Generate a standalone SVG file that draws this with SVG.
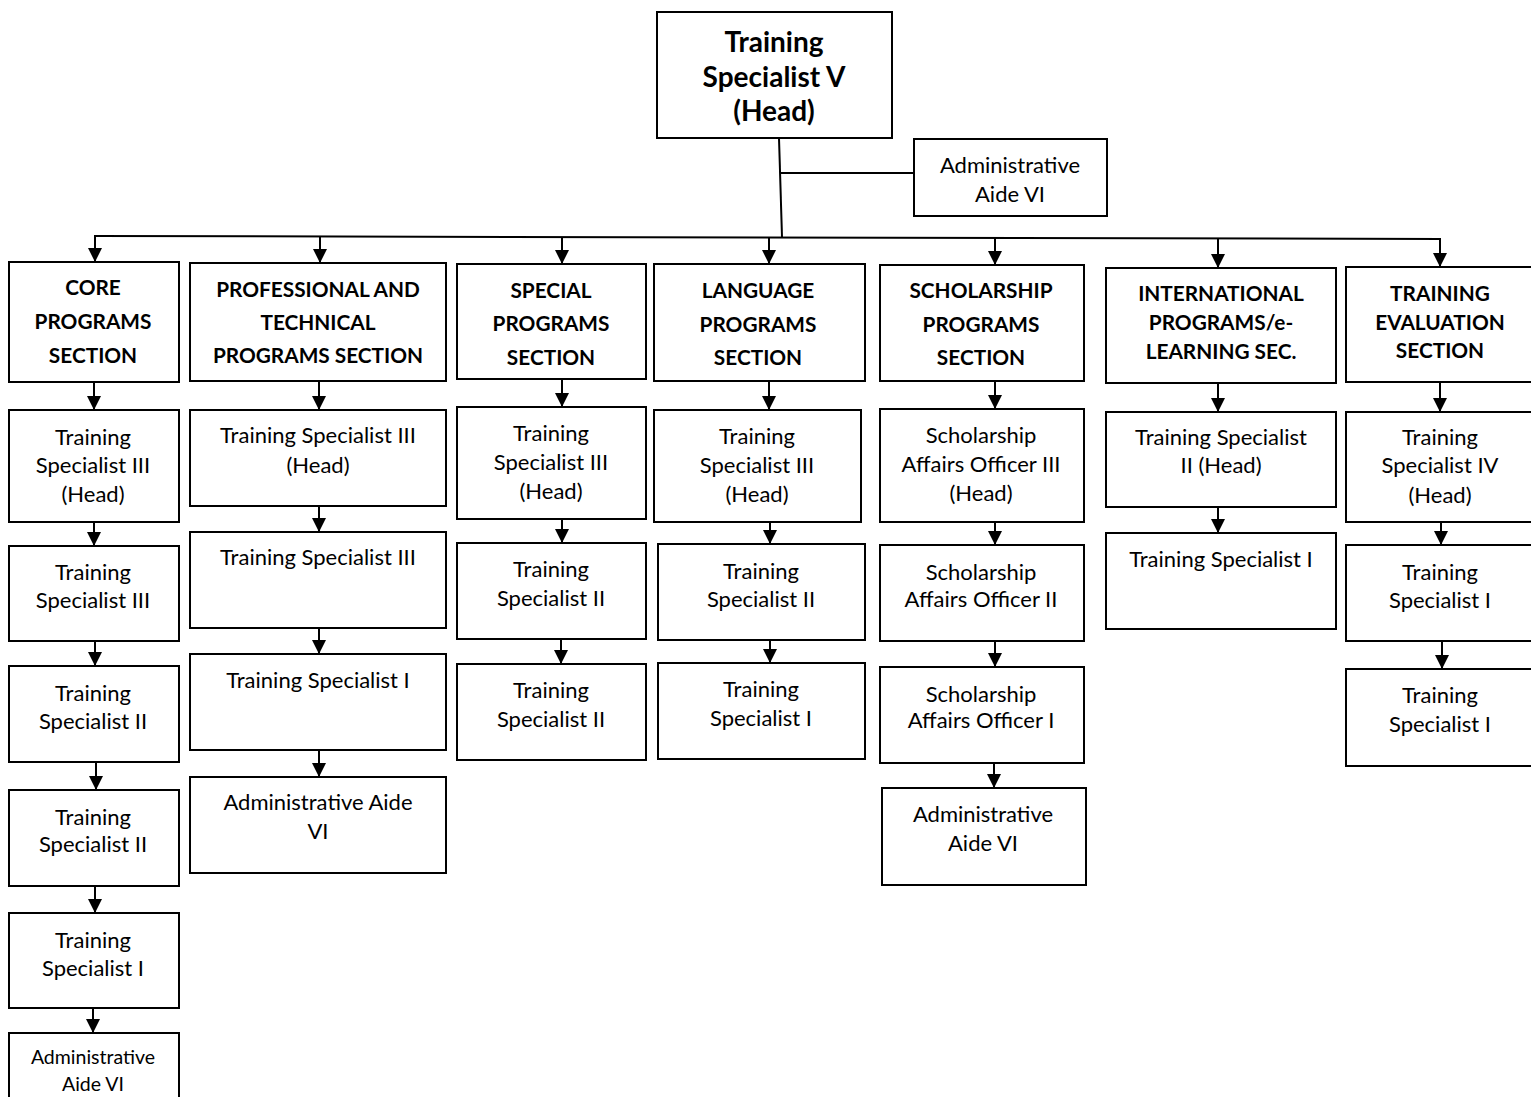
<svg xmlns="http://www.w3.org/2000/svg" width="1531" height="1097" viewBox="0 0 1531 1097">
  <style>
    .box { fill: #ffffff; stroke: #000000; stroke-width: 2; }
    .ln { fill: none; stroke: #000000; stroke-width: 2; }
    .arr { fill: none; stroke: #000000; stroke-width: 2; marker-end: url(#ah); }
    text { font-family: Lato, "Liberation Sans", sans-serif; fill: #000000; text-anchor: middle; }
    .t { font-size: 22px; }
    .s { font-size: 20.8px; font-weight: bold; }
    .h { font-size: 28px; font-weight: bold; }
    .sm { font-size: 19.5px; }
  </style>
  <defs>
    <marker id="ah" viewBox="0 0 10 10" refX="10" refY="5" markerUnits="userSpaceOnUse" markerWidth="14" markerHeight="14" orient="auto">
      <path d="M0,0 L10,5 L0,10 z" fill="#000000"/>
    </marker>
  </defs>
  <rect width="1531" height="1097" fill="#ffffff"/>

  <!-- connectors -->
  <g id="connectors">
    <line class="ln" x1="779" y1="138" x2="782" y2="237"/>
    <line class="ln" x1="780" y1="173" x2="914" y2="173"/>
    <line class="ln" x1="94" y1="236" x2="1441" y2="239"/>
    <!-- bus to sections -->
    <line class="arr" x1="95" y1="236" x2="95" y2="262"/>
    <line class="arr" x1="320" y1="236.5" x2="320" y2="263"/>
    <line class="arr" x1="562" y1="237" x2="562" y2="264"/>
    <line class="arr" x1="769" y1="237.5" x2="769" y2="264"/>
    <line class="arr" x1="995" y1="238" x2="995" y2="265"/>
    <line class="arr" x1="1218" y1="238.5" x2="1218" y2="268"/>
    <line class="arr" x1="1440" y1="239" x2="1440" y2="267"/>
    <!-- core column -->
    <line class="arr" x1="94" y1="382" x2="94" y2="410"/>
    <line class="arr" x1="94" y1="522" x2="94" y2="546"/>
    <line class="arr" x1="95" y1="641" x2="95" y2="666"/>
    <line class="arr" x1="96" y1="762" x2="96" y2="790"/>
    <line class="arr" x1="95" y1="886" x2="95" y2="913"/>
    <line class="arr" x1="93" y1="1008" x2="93" y2="1033"/>
    <!-- professional column -->
    <line class="arr" x1="319" y1="381" x2="319" y2="410"/>
    <line class="arr" x1="319" y1="506" x2="319" y2="532"/>
    <line class="arr" x1="319" y1="628" x2="319" y2="654"/>
    <line class="arr" x1="319" y1="750" x2="319" y2="777"/>
    <!-- special column -->
    <line class="arr" x1="562" y1="379" x2="562" y2="407"/>
    <line class="arr" x1="562" y1="519" x2="562" y2="543"/>
    <line class="arr" x1="561" y1="639" x2="561" y2="664"/>
    <!-- language column -->
    <line class="arr" x1="769" y1="381" x2="769" y2="410"/>
    <line class="arr" x1="770" y1="522" x2="770" y2="544"/>
    <line class="arr" x1="770" y1="640" x2="770" y2="663"/>
    <!-- scholarship column -->
    <line class="arr" x1="995" y1="381" x2="995" y2="409"/>
    <line class="arr" x1="995" y1="522" x2="995" y2="545"/>
    <line class="arr" x1="995" y1="641" x2="995" y2="667"/>
    <line class="arr" x1="994" y1="763" x2="994" y2="788"/>
    <!-- international column -->
    <line class="arr" x1="1218" y1="383" x2="1218" y2="412"/>
    <line class="arr" x1="1218" y1="507" x2="1218" y2="533"/>
    <!-- evaluation column -->
    <line class="arr" x1="1440" y1="382" x2="1440" y2="412"/>
    <line class="arr" x1="1441" y1="522" x2="1441" y2="545"/>
    <line class="arr" x1="1442" y1="641" x2="1442" y2="669"/>
  </g>

  <!-- head -->
  <g id="head">
    <rect class="box" x="657" y="12" width="235" height="126"/>
    <text class="h" x="774" y="52">Training</text>
    <text class="h" x="774" y="87">Specialist V</text>
    <text class="h" x="774" y="121">(Head)</text>
  </g>
  <g id="admin-top">
    <rect class="box" x="914" y="139" width="193" height="77"/>
    <text class="t" x="1010" y="173">Administrative</text>
    <text class="t" x="1010" y="202">Aide VI</text>
  </g>

  <!-- core programs section -->
  <g id="core">
    <rect class="box" x="9" y="262" width="170" height="120"/>
    <text class="s" x="93" y="295">CORE</text>
    <text class="s" x="93" y="329">PROGRAMS</text>
    <text class="s" x="93" y="363">SECTION</text>
  </g>
  <g id="core-1">
    <rect class="box" x="9" y="410" width="170" height="112"/>
    <text class="t" x="93" y="445">Training</text>
    <text class="t" x="93" y="473">Specialist III</text>
    <text class="t" x="93" y="502">(Head)</text>
  </g>
  <g id="core-2">
    <rect class="box" x="9" y="546" width="170" height="95"/>
    <text class="t" x="93" y="580">Training</text>
    <text class="t" x="93" y="608">Specialist III</text>
  </g>
  <g id="core-3">
    <rect class="box" x="9" y="666" width="170" height="96"/>
    <text class="t" x="93" y="701">Training</text>
    <text class="t" x="93" y="729">Specialist II</text>
  </g>
  <g id="core-4">
    <rect class="box" x="9" y="790" width="170" height="96"/>
    <text class="t" x="93" y="825">Training</text>
    <text class="t" x="93" y="852">Specialist II</text>
  </g>
  <g id="core-5">
    <rect class="box" x="9" y="913" width="170" height="95"/>
    <text class="t" x="93" y="948">Training</text>
    <text class="t" x="93" y="976">Specialist I</text>
  </g>
  <g id="core-6">
    <rect class="box" x="9" y="1033" width="170" height="80"/>
    <text class="sm" x="93" y="1064">Administrative</text>
    <text class="sm" x="93" y="1091">Aide VI</text>
  </g>

  <!-- professional and technical programs section -->
  <g id="prof">
    <rect class="box" x="190" y="263" width="256" height="118"/>
    <text class="s" x="318" y="297">PROFESSIONAL AND</text>
    <text class="s" x="318" y="330">TECHNICAL</text>
    <text class="s" x="318" y="363">PROGRAMS SECTION</text>
  </g>
  <g id="prof-1">
    <rect class="box" x="190" y="410" width="256" height="96"/>
    <text class="t" x="318" y="443">Training Specialist III</text>
    <text class="t" x="318" y="473">(Head)</text>
  </g>
  <g id="prof-2">
    <rect class="box" x="190" y="532" width="256" height="96"/>
    <text class="t" x="318" y="565">Training Specialist III</text>
  </g>
  <g id="prof-3">
    <rect class="box" x="190" y="654" width="256" height="96"/>
    <text class="t" x="318" y="688">Training Specialist I</text>
  </g>
  <g id="prof-4">
    <rect class="box" x="190" y="777" width="256" height="96"/>
    <text class="t" x="318" y="810">Administrative Aide</text>
    <text class="t" x="318" y="839">VI</text>
  </g>

  <!-- special programs section -->
  <g id="special">
    <rect class="box" x="457" y="264" width="189" height="115"/>
    <text class="s" x="551" y="298">SPECIAL</text>
    <text class="s" x="551" y="331">PROGRAMS</text>
    <text class="s" x="551" y="365">SECTION</text>
  </g>
  <g id="special-1">
    <rect class="box" x="457" y="407" width="189" height="112"/>
    <text class="t" x="551" y="441">Training</text>
    <text class="t" x="551" y="470">Specialist III</text>
    <text class="t" x="551" y="499">(Head)</text>
  </g>
  <g id="special-2">
    <rect class="box" x="457" y="543" width="189" height="96"/>
    <text class="t" x="551" y="577">Training</text>
    <text class="t" x="551" y="606">Specialist II</text>
  </g>
  <g id="special-3">
    <rect class="box" x="457" y="664" width="189" height="96"/>
    <text class="t" x="551" y="698">Training</text>
    <text class="t" x="551" y="727">Specialist II</text>
  </g>

  <!-- language programs section -->
  <g id="language">
    <rect class="box" x="654" y="264" width="211" height="117"/>
    <text class="s" x="758" y="298">LANGUAGE</text>
    <text class="s" x="758" y="332">PROGRAMS</text>
    <text class="s" x="758" y="365">SECTION</text>
  </g>
  <g id="language-1">
    <rect class="box" x="654" y="410" width="207" height="112"/>
    <text class="t" x="757" y="444">Training</text>
    <text class="t" x="757" y="473">Specialist III</text>
    <text class="t" x="757" y="502">(Head)</text>
  </g>
  <g id="language-2">
    <rect class="box" x="658" y="544" width="207" height="96"/>
    <text class="t" x="761" y="579">Training</text>
    <text class="t" x="761" y="607">Specialist II</text>
  </g>
  <g id="language-3">
    <rect class="box" x="658" y="663" width="207" height="96"/>
    <text class="t" x="761" y="697">Training</text>
    <text class="t" x="761" y="726">Specialist I</text>
  </g>

  <!-- scholarship programs section -->
  <g id="scholarship">
    <rect class="box" x="880" y="265" width="204" height="116"/>
    <text class="s" x="981" y="298">SCHOLARSHIP</text>
    <text class="s" x="981" y="332">PROGRAMS</text>
    <text class="s" x="981" y="365">SECTION</text>
  </g>
  <g id="scholarship-1">
    <rect class="box" x="880" y="409" width="204" height="113"/>
    <text class="t" x="981" y="443">Scholarship</text>
    <text class="t" x="981" y="472">Affairs Officer III</text>
    <text class="t" x="981" y="501">(Head)</text>
  </g>
  <g id="scholarship-2">
    <rect class="box" x="880" y="545" width="204" height="96"/>
    <text class="t" x="981" y="580">Scholarship</text>
    <text class="t" x="981" y="607">Affairs Officer II</text>
  </g>
  <g id="scholarship-3">
    <rect class="box" x="880" y="667" width="204" height="96"/>
    <text class="t" x="981" y="702">Scholarship</text>
    <text class="t" x="981" y="728">Affairs Officer I</text>
  </g>
  <g id="scholarship-4">
    <rect class="box" x="882" y="788" width="204" height="97"/>
    <text class="t" x="983" y="822">Administrative</text>
    <text class="t" x="983" y="851">Aide VI</text>
  </g>

  <!-- international programs / e-learning section -->
  <g id="international">
    <rect class="box" x="1106" y="268" width="230" height="115"/>
    <text class="s" x="1221" y="301">INTERNATIONAL</text>
    <text class="s" x="1221" y="330">PROGRAMS/e-</text>
    <text class="s" x="1221" y="359">LEARNING SEC.</text>
  </g>
  <g id="international-1">
    <rect class="box" x="1106" y="412" width="230" height="95"/>
    <text class="t" x="1221" y="445">Training Specialist</text>
    <text class="t" x="1221" y="473">II (Head)</text>
  </g>
  <g id="international-2">
    <rect class="box" x="1106" y="533" width="230" height="96"/>
    <text class="t" x="1221" y="567">Training Specialist I</text>
  </g>

  <!-- training evaluation section -->
  <g id="evaluation">
    <rect class="box" x="1346" y="267" width="190" height="115"/>
    <text class="s" x="1440" y="301">TRAINING</text>
    <text class="s" x="1440" y="330">EVALUATION</text>
    <text class="s" x="1440" y="358">SECTION</text>
  </g>
  <g id="evaluation-1">
    <rect class="box" x="1346" y="412" width="190" height="110"/>
    <text class="t" x="1440" y="445">Training</text>
    <text class="t" x="1440" y="473">Specialist IV</text>
    <text class="t" x="1440" y="503">(Head)</text>
  </g>
  <g id="evaluation-2">
    <rect class="box" x="1346" y="545" width="190" height="96"/>
    <text class="t" x="1440" y="580">Training</text>
    <text class="t" x="1440" y="608">Specialist I</text>
  </g>
  <g id="evaluation-3">
    <rect class="box" x="1346" y="669" width="190" height="97"/>
    <text class="t" x="1440" y="703">Training</text>
    <text class="t" x="1440" y="732">Specialist I</text>
  </g>
</svg>
